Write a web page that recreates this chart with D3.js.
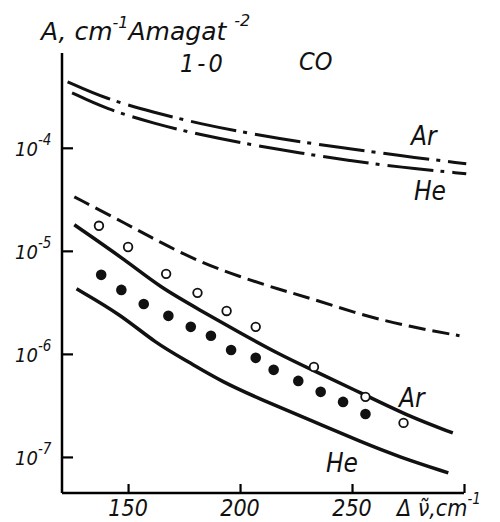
<!doctype html><html><head></head><body style="margin:0;background:#fff"><script src='https://d3js.org/d3.v7.min.js'></script>

<style>
	svg text {
		fill: #111;
		font-family: 'DejaVu Sans Condensed', 'DejaVu Sans', sans-serif;
		font-style: italic;
	}
</style>

<script>
  // dash-dot curves (top)
  var arDashDotX = [123, 140, 162, 182, 205, 227, 249, 271, 301];
  var arDashDotY = [4.37e-4, 2.99e-4, 2.19e-4, 1.71e-4, 1.37e-4, 1.14e-4, 9.8e-5, 8.4e-5, 7.0e-5];
  var heDashDotX = [125, 140, 162, 182, 205, 227, 249, 271, 301];
  var heDashDotY = [3.42e-4, 2.39e-4, 1.71e-4, 1.34e-4, 1.07e-4, 8.9e-5, 7.5e-5, 6.5e-5, 5.6e-5];

  // dashed curve
  var dashedX = [126, 150, 164, 182, 200, 218, 231, 254, 276, 298];
  var dashedY = [3.34e-5, 1.79e-5, 1.22e-5, 7.8e-6, 5.6e-6, 4.18e-6, 3.5e-6, 2.39e-6, 1.83e-6, 1.5e-6];

  // solid curves
  var arSolidX = [126, 150, 164, 182, 200, 218, 231, 254, 276, 295];
  var arSolidY = [1.79e-5, 7.8e-6, 4.47e-6, 2.67e-6, 1.6e-6, 9.8e-7, 7.2e-7, 4.18e-7, 2.44e-7, 1.71e-7];
  var heSolidX = [127, 147, 162, 177, 192, 210, 231, 254, 271, 293];
  var heSolidY = [4.28e-6, 2.39e-6, 1.28e-6, 8.36e-7, 5.35e-7, 3.57e-7, 2.29e-7, 1.4e-7, 1.0e-7, 7.0e-8];

  // measured points
  var openX = [137, 150, 167, 181, 194, 207, 233, 256, 273];
  var openY = [1.75e-5, 1.09e-5, 5.98e-6, 3.91e-6, 2.61e-6, 1.83e-6, 7.48e-7, 3.83e-7, 2.14e-7];
  var filledX = [138, 147, 157, 168, 178, 187, 196, 207, 215, 226, 236, 246, 256];
  var filledY = [5.85e-6, 4.18e-6, 3.05e-6, 2.34e-6, 1.83e-6, 1.5e-6, 1.09e-6, 9.15e-7, 7.0e-7, 5.47e-7, 4.28e-7, 3.42e-7, 2.61e-7];

  var xTicks = [150, 200, 250, 300];
  var xTickLabels = ["150", "200", "250", ""];
  var yTicks = [1e-4, 1e-5, 1e-6, 1e-7];
  var yTickPowers = ["-4", "-5", "-6", "-7"];

  var width = 500, height = 522;
  var plotLeft = 62, plotRight = 464, plotTop = 53, plotBottom = 493;

  var x = d3.scaleLinear().domain([120.5, 300]).range([plotLeft, plotRight]);
  var y = d3.scaleLog().domain([Math.pow(10, -7.35), Math.pow(10, -3.08)]).range([plotBottom, plotTop]);

  var svg = d3.select("body")
    .append("svg")
    .attr("width", width)
    .attr("height", height);

  function pts(xs, ys) {
    return xs.map(function(d, i) { return [d, ys[i]]; });
  }

  var line = d3.line()
    .x(function(d) { return x(d[0]); })
    .y(function(d) { return y(d[1]); })
    .curve(d3.curveBasis);

  // axes
  var xAxis = d3.axisTop(x).tickValues(xTicks).tickSize(9).tickFormat("");
  svg.append("g")
    .attr("transform", "translate(0," + plotBottom + ")")
    .call(xAxis)
    .call(function(g) {
      g.select(".domain").attr("d", "M" + plotLeft + ",0H" + plotRight).attr("stroke-width", 2.5);
      g.selectAll(".tick line").attr("stroke-width", 2.2);
    });

  var yAxis = d3.axisRight(y).tickValues(yTicks).tickSize(11).tickFormat("");
  svg.append("g")
    .attr("transform", "translate(" + plotLeft + ",0)")
    .call(yAxis)
    .call(function(g) {
      g.select(".domain").attr("d", "M0," + plotTop + "V" + plotBottom).attr("stroke-width", 2.5);
      g.selectAll(".tick line").attr("stroke-width", 2.2);
    });

  // x tick labels
  svg.selectAll(".xlab")
    .data(xTicks)
    .enter()
    .append("text")
    .attr("x", function(d) { return x(d); })
    .attr("y", 516)
    .attr("text-anchor", "middle")
    .style("font-size", "23px")
    .text(function(d, i) { return xTickLabels[i]; });

  // y tick labels 10^n
  var ylab = svg.selectAll(".ylab")
    .data(yTicks)
    .enter()
    .append("text")
    .attr("x", 15)
    .attr("y", function(d) { return y(d) + 8; })
    .style("font-size", "20px");
  ylab.append("tspan").text("10");
  ylab.append("tspan")
    .attr("dy", -11)
    .style("font-size", "15px")
    .text(function(d, i) { return yTickPowers[i]; });

  // curves
  function drawCurve(xs, ys, w, dash) {
    svg.append("path")
      .attr("d", line(pts(xs, ys)))
      .attr("fill", "none")
      .attr("stroke", "#111")
      .attr("stroke-width", w)
      .attr("stroke-dasharray", dash);
  }
  drawCurve(arDashDotX, arDashDotY, 3, "46,7,4,8");
  drawCurve(heDashDotX, heDashDotY, 3, "46,7,4,8");
  drawCurve(dashedX, dashedY, 3, "17,7");
  drawCurve(arSolidX, arSolidY, 3.5, null);
  drawCurve(heSolidX, heSolidY, 3.5, null);

  svg.selectAll(".open")
    .data(pts(openX, openY))
    .enter()
    .append("circle")
    .attr("cx", function(d) { return x(d[0]); })
    .attr("cy", function(d) { return y(d[1]); })
    .attr("r", 4.3)
    .attr("fill", "#fff")
    .attr("stroke", "#111")
    .attr("stroke-width", 1.8);

  svg.selectAll(".filled")
    .data(pts(filledX, filledY))
    .enter()
    .append("circle")
    .attr("cx", function(d) { return x(d[0]); })
    .attr("cy", function(d) { return y(d[1]); })
    .attr("r", 5.3)
    .attr("fill", "#111");

  // text labels
  function label(t, px, py, size) {
    return svg.append("text").attr("x", px).attr("y", py).style("font-size", size + "px").text(t);
  }
  label("Ar", 411, 145, 26);
  label("He", 414, 200, 26);
  label("Ar", 399, 407, 26);
  label("He", 326, 472, 26);
  label("CO", 299, 70, 25);
  label("1-0", 180, 72, 25).style("letter-spacing", "3px");

  var title = svg.append("text").attr("x", 41).attr("y", 40)
    .style("font-size", "25px").style("font-family", "'DejaVu Sans', sans-serif");
  title.append("tspan").text("A, cm");
  title.append("tspan").attr("dy", -12).style("font-size", "16px").text("-1");
  title.append("tspan").attr("dy", 12).text("Amagat ");
  title.append("tspan").attr("dy", -14).style("font-size", "16px").text("-2");

  var xl = svg.append("text").attr("x", 397).attr("y", 516).style("font-size", "23px");
  xl.append("tspan").text("\u0394 \u03bd\u0303,cm");
  xl.append("tspan").attr("dy", -12).style("font-size", "15px").text("-1");
</script></body></html>
